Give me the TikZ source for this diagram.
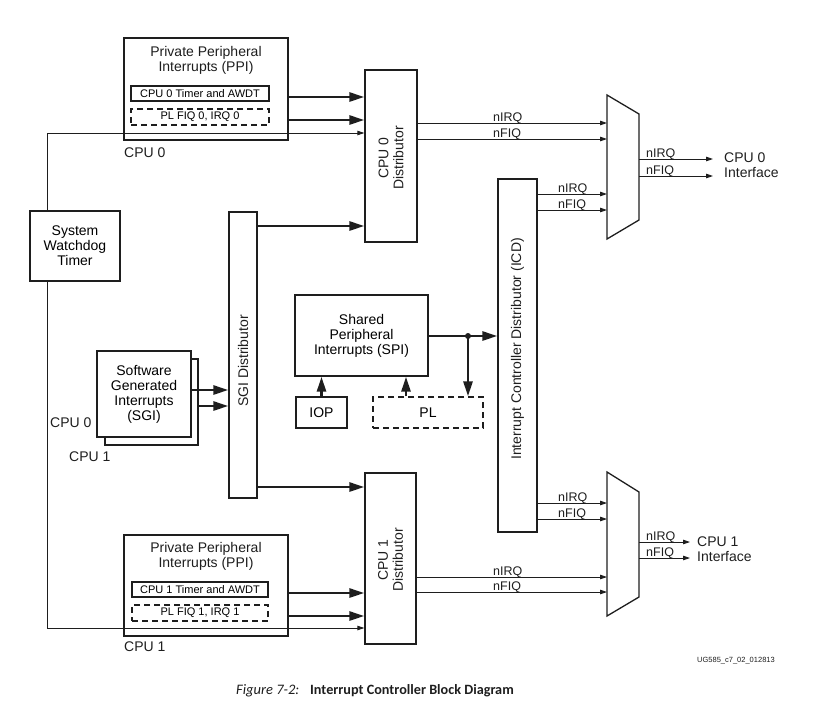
\documentclass[tikz,border=0pt]{standalone}
\usepackage{fontspec}
\setmainfont{Liberation Sans}
\newfontfamily\capfont{Carlito}
\usetikzlibrary{arrows.meta,calc}
\definecolor{ink}{HTML}{1E1E1E}
\tikzset{
  box/.style={draw=ink, line width=1.3pt, inner sep=0pt, align=center,
              font=\fontsize{14}{15}\selectfont},
  dbox/.style={box, dashed, dash pattern=on 6pt off 4pt},
  txt/.style={inner sep=0pt, align=center, font=\fontsize{14}{15}\selectfont, text=ink},
  small/.style={inner sep=0pt, font=\fontsize{11}{12}\selectfont, text=ink},
  sig/.style={inner sep=0pt, anchor=base west, font=\fontsize{12.5}{13}\selectfont, text=ink},
  tarr/.style={draw=ink, line width=0.9pt, -{Triangle[length=7pt,width=4.5pt]}},
  karr/.style={draw=ink, line width=2.6pt, -{Triangle[length=15pt,width=9pt]}},
}
\begin{document}
\begin{tikzpicture}[x=1pt,y=-1pt]
\useasboundingbox (0,0) rectangle (837,702);

% ---------- CPU 0 PPI ----------
\node[box, minimum width=164pt, minimum height=102pt] (ppi0) at (206,89) {};
\node[txt] (ppi0t) at (206,60.5) {Private Peripheral\\Interrupts (PPI)};
\node[box, line width=1.1pt, minimum width=138pt, minimum height=15pt, font=\fontsize{11}{12}\selectfont] (tim0) at (200,93.5) {CPU 0 Timer and AWDT};
\node[dbox, line width=1.1pt, minimum width=138pt, minimum height=16pt, font=\fontsize{11}{12}\selectfont] (plq0) at (200,117) {PL FIQ 0, IRQ 0};
\node[txt, anchor=west] (c0l) at (124,153) {CPU 0};

% ---------- Watchdog ----------
\node[box, minimum width=90pt, minimum height=70pt, fill=white] (wd) at (75,246) {System\\Watchdog\\Timer};

% ---------- CPU 0 distributor ----------
\node[box, minimum width=52pt, minimum height=172pt] (d0) at (391,156) {};
\node[txt, rotate=90] (d0t) at (391,158) {CPU 0\\Distributor};

% ---------- SGI distributor ----------
\node[box, minimum width=28pt, minimum height=286pt] (sgid) at (243,355) {};
\node[txt, rotate=90] (sgidt) at (243,361) {SGI Distributor};

% ---------- SGI ----------
\node[box, minimum width=93pt, minimum height=86pt] (sgi1) at (151.5,402) {};
\node[box, minimum width=94pt, minimum height=86pt, fill=white] (sgi0) at (144,394) {Software\\Generated\\Interrupts\\(SGI)};
\node[txt, anchor=west] (sc0) at (50,423) {CPU 0};
\node[txt, anchor=west] (sc1) at (69,457) {CPU 1};

% ---------- SPI ----------
\node[box, minimum width=133pt, minimum height=81pt] (spi) at (361.5,335.5) {Shared\\Peripheral\\Interrupts (SPI)};
\node[box, minimum width=51pt, minimum height=31pt] (iop) at (321.5,412.5) {IOP};
\node[dbox, minimum width=110pt, minimum height=31pt] (pl) at (428,412.5) {PL};

% ---------- ICD ----------
\node[box, minimum width=39pt, minimum height=353pt] (icd) at (517.5,355.5) {};
\node[txt, rotate=90] (icdt) at (517.5,349) {Interrupt Controller Distributor (ICD)};

% ---------- CPU 1 distributor ----------
\node[box, minimum width=51pt, minimum height=171pt] (d1) at (390.5,558.5) {};
\node[txt, rotate=90] (d1t) at (390.5,560) {CPU 1\\Distributor};

% ---------- CPU 1 PPI ----------
\node[box, minimum width=164pt, minimum height=101pt] (ppi1) at (206,585.5) {};
\node[txt] (ppi1t) at (206,556.5) {Private Peripheral\\Interrupts (PPI)};
\node[box, line width=1.1pt, minimum width=136pt, minimum height=15pt, font=\fontsize{11}{12}\selectfont] (tim1) at (200,589.5) {CPU 1 Timer and AWDT};
\node[dbox, line width=1.1pt, minimum width=136pt, minimum height=16pt, font=\fontsize{11}{12}\selectfont] (plq1) at (200,613) {PL FIQ 1, IRQ 1};
\node[txt, anchor=west] (c1l) at (124,647) {CPU 1};

% ---------- Muxes ----------
\draw[ink, line width=1.3pt] (607,95) -- (639,114) -- (639,220) -- (607,239) -- cycle;
\coordinate (m0l) at (607,167);
\coordinate (m0r) at (639,167);
\draw[ink, line width=1.3pt] (607,472) -- (639,492) -- (639,597) -- (607,616) -- cycle;
\coordinate (m1l) at (607,544);
\coordinate (m1r) at (639,544);

% ---------- Thick arrows ----------
\draw[karr] (ppi0.east |- 0,97) -- (d0.west |- 0,97);
\draw[karr] (ppi0.east |- 0,120) -- (d0.west |- 0,120);
\draw[karr] (ppi1.east |- 0,593) -- (d1.west |- 0,593);
\draw[karr] (ppi1.east |- 0,616) -- (d1.west |- 0,616);
\draw[karr] (sgid.east |- 0,226) -- (d0.west |- 0,226);
\draw[karr] (sgid.east |- 0,487) -- (d1.west |- 0,487);
\draw[karr] (sgi0.east |- 0,390) -- (sgid.west |- 0,390);
\draw[karr] (sgi1.east |- 0,406) -- (sgid.west |- 0,406);
\coordinate (dot) at (468,336);
\draw[karr] (spi.east |- dot) -- (icd.west |- dot);
\fill[ink] (dot) circle (3pt);
\draw[karr] (dot) -- (pl.north -| dot);
\draw[karr] (iop.north) -- (spi.south -| iop.north);
\draw[karr] (pl.north -| 406,0) -- (spi.south -| 406,0);

% ---------- Watchdog lines ----------
\draw[tarr] (wd.north -| 47,0) |- (d0.west |- 0,133);
\draw[tarr] (wd.south -| 47,0) |- (d1.west |- 0,628);

% ---------- Signal lines ----------
\draw[tarr] (d0.east |- 0,123) -- (m0l |- 0,123);
\draw[tarr] (d0.east |- 0,139) -- (m0l |- 0,139);
\node[sig] (s1) at (493,121) {nIRQ};
\node[sig] (s2) at (493,137) {nFIQ};

\draw[tarr] (icd.east |- 0,194) -- (m0l |- 0,194);
\draw[tarr] (icd.east |- 0,210) -- (m0l |- 0,210);
\node[sig] (s3) at (558,192) {nIRQ};
\node[sig] (s4) at (558,208) {nFIQ};

\draw[tarr] (m0r |- 0,159) -- (713,159);
\draw[tarr] (m0r |- 0,176) -- (713,176);
\node[sig] (s5) at (646,157) {nIRQ};
\node[sig] (s6) at (646,174) {nFIQ};
\node[txt, align=left, anchor=west] (if0) at (724,165.5) {CPU 0\\Interface};

\draw[tarr] (icd.east |- 0,503) -- (m1l |- 0,503);
\draw[tarr] (icd.east |- 0,519) -- (m1l |- 0,519);
\node[sig] (s7) at (558,501) {nIRQ};
\node[sig] (s8) at (558,517) {nFIQ};

\draw[tarr] (d1.east |- 0,577) -- (m1l |- 0,577);
\draw[tarr] (d1.east |- 0,592) -- (m1l |- 0,592);
\node[sig] (s9) at (493,575) {nIRQ};
\node[sig] (s10) at (493,590) {nFIQ};

\draw[tarr] (m1r |- 0,542) -- (690,542);
\draw[tarr] (m1r |- 0,558) -- (690,558);
\node[sig] (s11) at (646,540) {nIRQ};
\node[sig] (s12) at (646,556) {nFIQ};
\node[txt, align=left, anchor=west] (if1) at (697,549.5) {CPU 1\\Interface};

% ---------- ID and caption ----------
\node[inner sep=0pt, anchor=west, font=\fontsize{7.5}{8}\selectfont, text=ink] (id) at (697,661) {UG585\_c7\_02\_012813};
\node[inner sep=0pt, anchor=base west, font=\capfont\itshape\fontsize{14.5}{15}\selectfont, text=ink] (cap1) at (236,694) {Figure 7-2:};
\node[inner sep=0pt, anchor=base west, font=\capfont\bfseries\fontsize{14.2}{15}\selectfont, text=ink] (cap2) at (310,694) {Interrupt Controller Block Diagram};
\end{tikzpicture}
\end{document}
